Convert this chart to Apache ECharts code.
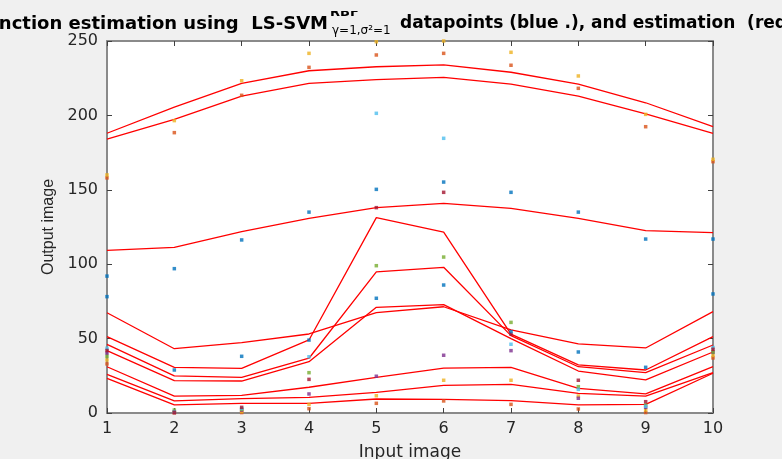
<!DOCTYPE html>
<html>
<head>
<meta charset="utf-8">
<script src="https://cdn.jsdelivr.net/npm/echarts@6/dist/echarts.min.js"></script>
<style>
html,body{margin:0;padding:0;background:#f0f0f0;}
#chart{width:782px;height:459px;}
</style>
</head>
<body>
<div id="chart"></div>
<script>
// ---- data ----
const xTicks = [1, 2, 3, 4, 5, 6, 7, 8, 9, 10];
const yTicks = [0, 50, 100, 150, 200, 250];

// datapoints (MATLAB colour order)
const ptsBlueA    = [92, 97, 116.3, 135, 150.3, 155.2, 148.3, 135, 116.9, 116.9];
const ptsOrangeLo = [33, 0, 0.3, 2.9, 6.5, 8.1, 5.8, 2.7, 0.3, 37];
const ptsYellowLo = [35.6, 0.5, 1, 5.8, 11.6, 22, 22, 11.4, 2, 38.7];
const ptsPurple   = [40.2, 0.3, 2, 12.8, 24.7, 38.8, 41.9, 9.9, 3.8, 40.8];
const ptsGreen    = [38, 2, 2.5, 27.1, 99, 104.8, 60.9, 17.7, 5.4, 41];
const ptsLightBlue= [43.5, 1, 3, 37.8, 201.4, 184.6, 46.2, 15.9, 4.5, 44];
const ptsDarkRed  = [42, 0.5, 3.8, 22.6, 138, 148.3, 53, 22, 7.6, 42.8];
const ptsBlueB    = [78.2, 28.9, 38.1, 49, 77.1, 86, 54.7, 41, 30.7, 80];
const ptsOrangeHi = [158, 188.4, 213.5, 232.3, 240.6, 241.7, 233.7, 218.2, 192.4, 168.9];
const ptsYellowHi = [160, 196.5, 223.3, 241.7, 249.5, 250, 242.4, 226.5, 200.7, 170.5];

// LS-SVM estimations (red lines)
const fitYellowHi = [188, 205.6, 221.5, 230, 232.7, 234, 229, 221, 208.5, 192.5];
const fitOrangeHi = [184, 197.3, 213, 221.5, 224, 225.6, 221, 213, 201, 188];
const fitBlueA    = [109.3, 111.3, 121.9, 130.8, 138, 140.9, 137.5, 130.8, 122.5, 121.2];
const fitLightBlue= [51.3, 30.7, 30, 49.1, 131.3, 121.6, 53, 32.3, 28.9, 51.3];
const fitDarkRed  = [46.1, 24.9, 24, 36.8, 94.8, 97.9, 52, 31.1, 27.1, 45.7];
const fitGreen    = [41.9, 21.7, 21.5, 34.5, 71, 72.8, 50, 28.2, 22.2, 41];
const fitBlueB    = [67.4, 43.2, 47.3, 53.1, 67.4, 71.4, 55.8, 46.4, 43.7, 68.1];
const fitPurple   = [31.1, 11.4, 11.9, 17.3, 24, 30.2, 30.7, 16.6, 12.8, 31.1];
const fitYellowLo = [26, 8.1, 9.6, 10.5, 13.9, 18.6, 19.2, 13.2, 11.4, 27.1];
const fitOrangeLo = [23.3, 5.4, 6.5, 6.5, 9.4, 9.2, 8.3, 5.4, 5.8, 26.7];

const pointSets = [
  [ptsBlueA, '#0072BD'], [ptsOrangeLo, '#D95319'], [ptsYellowLo, '#EDB120'],
  [ptsPurple, '#7E2F8E'], [ptsGreen, '#77AC30'], [ptsLightBlue, '#4DBEEE'],
  [ptsDarkRed, '#A2142F'], [ptsBlueB, '#0072BD'], [ptsOrangeHi, '#D95319'],
  [ptsYellowHi, '#EDB120']
];
const fitSets = [fitYellowHi, fitOrangeHi, fitBlueA, fitLightBlue, fitDarkRed,
  fitGreen, fitBlueB, fitPurple, fitYellowLo, fitOrangeLo];

const pair = arr => xTicks.map((x, i) => [x, arr[i]]);

const series = [];
fitSets.forEach(f => series.push({
  type: 'line', data: pair(f), showSymbol: false, symbol: 'none',
  lineStyle: { color: '#ff0000', width: 1.3 }, z: 2, silent: true
}));
pointSets.forEach(([p, c]) => series.push({
  type: 'scatter', data: pair(p), symbol: 'rect', symbolSize: 3.5,
  itemStyle: { color: c }, z: 3, silent: true
}));

const font = 'DejaVu Sans';
const axisLineStyle = { color: '#8a8a8a', width: 2 };
const tickStyle = { color: '#404040', width: 1 };

const baseX = {
  type: 'value', min: xTicks[0], max: xTicks[xTicks.length - 1], interval: 1,
  splitLine: { show: false },
  axisLine: { show: true, onZero: false, lineStyle: axisLineStyle },
  axisTick: { show: true, inside: true, length: 5, lineStyle: tickStyle }
};
const baseY = {
  type: 'value', min: yTicks[0], max: yTicks[yTicks.length - 1], interval: 50,
  splitLine: { show: false },
  axisLine: { show: true, onZero: false, lineStyle: axisLineStyle },
  axisTick: { show: true, inside: true, length: 5, lineStyle: tickStyle }
};

const chart = echarts.init(document.getElementById('chart'), null, { renderer: 'canvas' });
chart.setOption({
  animation: false,
  backgroundColor: '#f0f0f0',
  grid: { left: 107, right: 69, top: 41, bottom: 46, show: true,
          backgroundColor: '#ffffff', borderWidth: 0,
          containLabel: false, outerBoundsMode: 'none' },
  xAxis: [
    Object.assign({}, baseX, {
      position: 'bottom',
      axisLabel: { color: '#262626', fontSize: 16, fontFamily: font, margin: 8 },
      name: 'Input image', nameLocation: 'middle', nameGap: 31,
      nameTextStyle: { color: '#262626', fontSize: 17, fontFamily: font }
    }),
    Object.assign({}, baseX, { position: 'top', axisLabel: { show: false } })
  ],
  yAxis: [
    Object.assign({}, baseY, {
      position: 'left',
      axisLabel: { color: '#262626', fontSize: 16, fontFamily: font, margin: 9 },
      name: 'Output image', nameLocation: 'middle', nameGap: 43,
      nameTextStyle: { color: '#262626', fontSize: 16, fontFamily: 'Liberation Sans' }
    }),
    Object.assign({}, baseY, { position: 'right', axisLabel: { show: false } })
  ],
  graphic: [
    { type: 'text', x: 328, y: 24, style: { text: 'Function estimation using  LS-SVM',
      font: 'bold 18px "DejaVu Sans"', fill: '#000', textAlign: 'right', textVerticalAlign: 'middle' } },
    { type: 'text', x: 330, y: 13, style: { text: 'RBF',
      font: 'bold 13px "DejaVu Sans"', fill: '#000', textAlign: 'left', textVerticalAlign: 'middle' } },
    { type: 'rect', shape: { x: 320, y: 0, width: 60, height: 11 }, style: { fill: '#f0f0f0' }, z: 10 },
    { type: 'text', x: 332, y: 31, style: { text: 'γ=1,σ²=1',
      font: '12px "DejaVu Sans"', fill: '#000', textAlign: 'left', textVerticalAlign: 'middle' } },
    { type: 'text', x: 400, y: 24, style: { text: 'datapoints (blue .), and estimation  (red line)',
      font: 'bold 17px "DejaVu Sans"', fill: '#000', textAlign: 'left', textVerticalAlign: 'middle' } }
  ],
  series: series
});
</script>
</body>
</html>
